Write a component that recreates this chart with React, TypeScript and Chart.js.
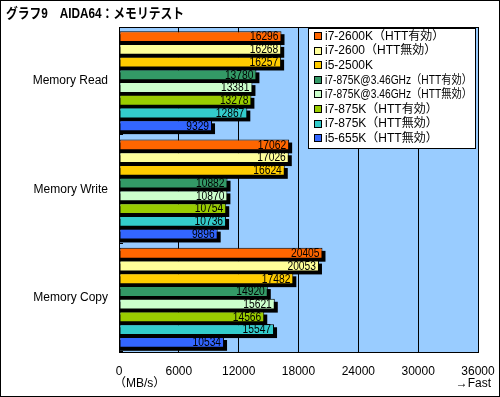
import React, { useEffect, useRef } from "react";
import { Chart, registerables } from "chart.js";
Chart.register(...registerables);

const titleText = "グラフ9　AIDA64：メモリテスト";
const categories = ["Memory Read", "Memory Write", "Memory Copy"];
const seriesNames = [
  "i7-2600K（HTT有効）",
  "i7-2600（HTT無効）",
  "i5-2500K",
  "i7-875K@3.46GHz（HTT有効）",
  "i7-875K@3.46GHz（HTT無効）",
  "i7-875K（HTT有効）",
  "i7-875K（HTT無効）",
  "i5-655K（HTT無効）",
];
const seriesColors = ["#FF6600", "#FFFF99", "#FFCC00", "#339966", "#CCFFCC", "#99CC00", "#33CCCC", "#3366FF"];
const i7_2600K_on = [16296, 17062, 20405];
const i7_2600_off = [16268, 17026, 20053];
const i5_2500K = [16257, 16624, 17482];
const i7_875K_oc_on = [13780, 10882, 14920];
const i7_875K_oc_off = [13381, 10870, 15621];
const i7_875K_on = [13278, 10754, 14566];
const i7_875K_off = [12867, 10736, 15547];
const i5_655K_off = [9329, 9896, 10534];
const seriesValues = [i7_2600K_on, i7_2600_off, i5_2500K, i7_875K_oc_on, i7_875K_oc_off, i7_875K_on, i7_875K_off, i5_655K_off];
const axisMax = 36000;
const axisStep = 6000;
const unitLabel = "（MB/s）";
const fastLabel = "→Fast";

const FONT = '"Liberation Sans", "Noto Sans CJK JP", sans-serif';

const decorPlugin = {
  id: "decor",
  beforeDraw(chart: any) {
    const { ctx, chartArea: a, width, height } = chart;
    ctx.save();
    ctx.fillStyle = "#ffffff";
    ctx.fillRect(0, 0, width, height);
    ctx.fillStyle = "#99CCFF";
    ctx.fillRect(a.left, a.top, a.right - a.left, a.bottom - a.top);
    ctx.restore();
  },
  beforeDatasetsDraw(chart: any) {
    const { ctx, chartArea: a } = chart;
    ctx.save();
    // category boundary marks on the left axis
    ctx.strokeStyle = "#000000";
    ctx.lineWidth = 1;
    const n = categories.length;
    const gh = (a.bottom - a.top) / n;
    for (let k = 1; k <= n; k++) {
      const y = Math.round(a.top + k * gh) - 0.5;
      ctx.beginPath();
      ctx.moveTo(a.left, y);
      ctx.lineTo(a.left + 4, y);
      ctx.stroke();
    }
    ctx.fillStyle = "#000000";
    chart.data.datasets.forEach((_: any, di: number) => {
      const meta = chart.getDatasetMeta(di);
      meta.data.forEach((bar: any) => {
        const p = bar.getProps(["x", "y", "base", "height"], true);
        const top = p.y - p.height / 2;
        ctx.fillRect(p.base, top + 3, p.x - p.base + 3, p.height);
      });
    });
    ctx.restore();
  },
  afterDatasetsDraw(chart: any) {
    const { ctx } = chart;
    ctx.save();
    ctx.fillStyle = "#000000";
    ctx.font = "12px " + FONT;
    ctx.textAlign = "right";
    ctx.textBaseline = "middle";
    chart.data.datasets.forEach((ds: any, di: number) => {
      const meta = chart.getDatasetMeta(di);
      meta.data.forEach((bar: any, i: number) => {
        const p = bar.getProps(["x", "y"], true);
        const s = String(ds.data[i]);
        ctx.fillText(s, p.x - 3, p.y + 0.5, s.length * 5.7);
      });
    });
    ctx.restore();
  },
  afterDraw(chart: any) {
    const { ctx, chartArea: a, width, height } = chart;
    ctx.save();
    ctx.strokeStyle = "#000000";
    ctx.lineWidth = 1;
    ctx.strokeRect(Math.round(a.left) + 0.5, Math.round(a.top) + 0.5, Math.round(a.right - a.left), Math.round(a.bottom - a.top));
    ctx.strokeRect(0.5, 0.5, width - 1, height - 1);
    ctx.fillStyle = "#000000";
    ctx.font = "bold 14px " + FONT;
    ctx.textAlign = "left";
    ctx.textBaseline = "middle";
    ctx.fillText(titleText, 6, 14, 178);
    ctx.font = "12px " + FONT;
    ctx.textAlign = "left";
    ctx.fillText(unitLabel, 114, 384);
    ctx.textAlign = "right";
    ctx.fillText(fastLabel, 491, 384);
    const lx = 308, ly = 28, lw = 167, lh = 120;
    ctx.fillStyle = "#ffffff";
    ctx.fillRect(lx, ly, lw, lh);
    ctx.strokeRect(lx + 0.5, ly + 0.5, lw, lh);
    ctx.textAlign = "left";
    ctx.font = "12px " + FONT;
    seriesNames.forEach((name, i) => {
      const cy = 36 + i * 14.6;
      ctx.fillStyle = seriesColors[i];
      ctx.fillRect(314, Math.round(cy - 4), 8, 8);
      ctx.strokeStyle = "#000000";
      ctx.strokeRect(314.5, Math.round(cy - 4) + 0.5, 7, 7);
      ctx.fillStyle = "#000000";
      ctx.fillText(name, 325, cy + 0.5, 147);
    });
    ctx.restore();
  },
};

export default function App() {
  const ref = useRef<HTMLCanvasElement | null>(null);
  useEffect(() => {
    if (!ref.current) return;
    const chart = new Chart(ref.current, {
      type: "bar",
      data: {
        labels: categories,
        datasets: seriesNames.map((name, i) => ({
          label: name,
          data: seriesValues[i],
          backgroundColor: seriesColors[i],
          borderColor: "#000000",
          borderWidth: 1,
          borderSkipped: false,
          categoryPercentage: 0.94,
          barPercentage: 0.85,
        })),
      },
      options: {
        indexAxis: "y",
        responsive: false,
        animation: false,
        events: [],
        layout: { padding: { top: 27, right: 22, left: 0, bottom: 0 } },
        plugins: { legend: { display: false }, tooltip: { enabled: false } },
        scales: {
          x: {
            min: 0,
            max: axisMax,
            ticks: {
              stepSize: axisStep,
              color: "#000",
              font: { size: 12, family: FONT },
              padding: 12,
              maxRotation: 0,
              callback: (v: any) => String(v),
            },
            grid: { color: "#000", drawTicks: false, lineWidth: 1 },
            border: { color: "#000" },
            afterFit: (s: any) => { s.height = 45; s.paddingLeft = 0; s.paddingRight = 0; },
          },
          y: {
            ticks: { color: "#000", font: { size: 12, family: FONT }, padding: 11 },
            grid: { display: false, drawTicks: false },
            border: { color: "#000" },
            afterFit: (s: any) => { s.width = 119; s.paddingTop = 0; s.paddingBottom = 0; },
          },
        },
      } as any,
      plugins: [decorPlugin],
    });
    return () => chart.destroy();
  }, []);
  return (
    <div style={{ position: "fixed", left: 0, top: 0, width: 500, height: 397 }}>
      <canvas ref={ref} width={500} height={397} style={{ display: "block", width: 500, height: 397 }} />
    </div>
  );
}
